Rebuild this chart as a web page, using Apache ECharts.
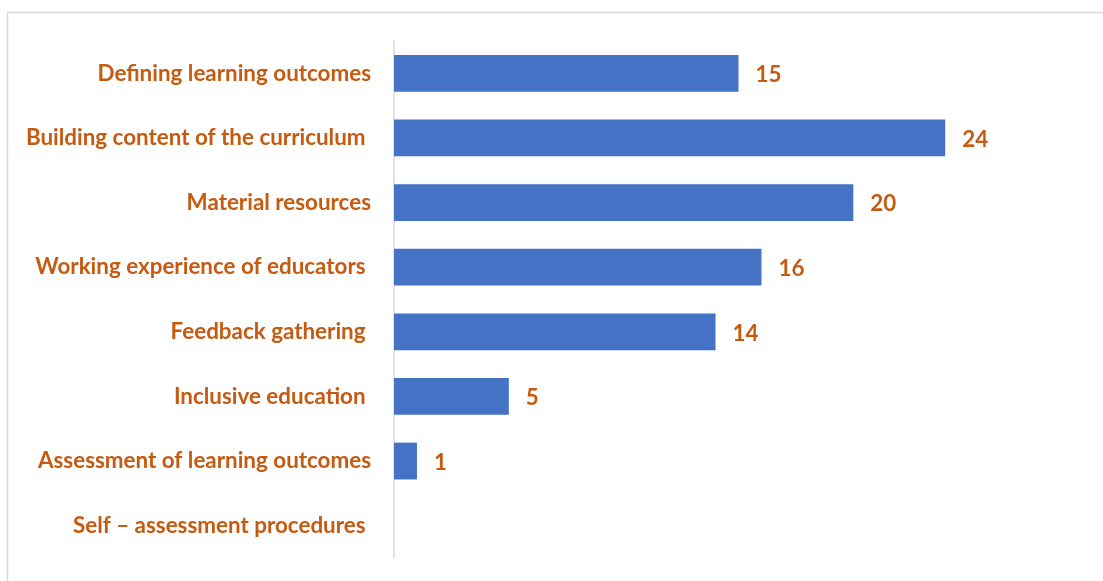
<!DOCTYPE html>
<html>
<head>
<meta charset="utf-8">
<script src="https://cdn.jsdelivr.net/npm/echarts@6/dist/echarts.min.js"></script>
<style>
  html, body { margin: 0; padding: 0; background: #ffffff; }
  #chart { width: 1103px; height: 581px; }
</style>
</head>
<body>
<div id="chart"></div>
<script>
// Categories, listed from top to bottom
const categories = [
  'Defining learning outcomes',
  'Building content of the curriculum ',
  'Material resources',
  'Working experience of educators ',
  'Feedback gathering ',
  'Inclusive education ',
  'Assessment of learning outcomes',
  'Self \u2013 assessment procedures '
];
const counts = [15, 24, 20, 16, 14, 5, 1, 0];

const labelColor = '#C55A11';
const barColor = '#4472C4';
const fontFamily = 'Lato, "Open Sans", sans-serif';
const fontSize = 22.4;

const chart = echarts.init(document.getElementById('chart'), null, { renderer: 'canvas' });

chart.setOption({
  animation: false,
  backgroundColor: '#ffffff',
  graphic: [{
    type: 'rect',
    shape: { x: 7.5, y: 12.5, width: 1200, height: 700 },
    style: { fill: 'none', stroke: '#d9d9d9', lineWidth: 1.5 },
    silent: true
  }],
  grid: { left: 394, right: 20, top: 41, bottom: 23, containLabel: false },
  xAxis: {
    type: 'value',
    min: 0,
    max: 30,
    show: false
  },
  yAxis: {
    type: 'category',
    data: categories,
    inverse: true,
    axisLine: { show: true, lineStyle: { color: '#d9d9d9', width: 1.5 } },
    axisTick: { show: false },
    axisLabel: {
      color: labelColor,
      fontFamily: fontFamily,
      fontWeight: 'bold',
      fontSize: fontSize,
      margin: 23,
      padding: [3, 0, 0, 0]
    }
  },
  series: [{
    type: 'bar',
    data: counts,
    barCategoryGap: '43%',
    itemStyle: { color: barColor },
    label: {
      show: true,
      position: 'right',
      distance: 17,
      offset: [0, 1.5],
      color: labelColor,
      fontFamily: fontFamily,
      fontWeight: 'bold',
      fontSize: fontSize,
      formatter: p => (p.value === 0 ? '' : String(p.value))
    }
  }]
});
</script>
</body>
</html>
